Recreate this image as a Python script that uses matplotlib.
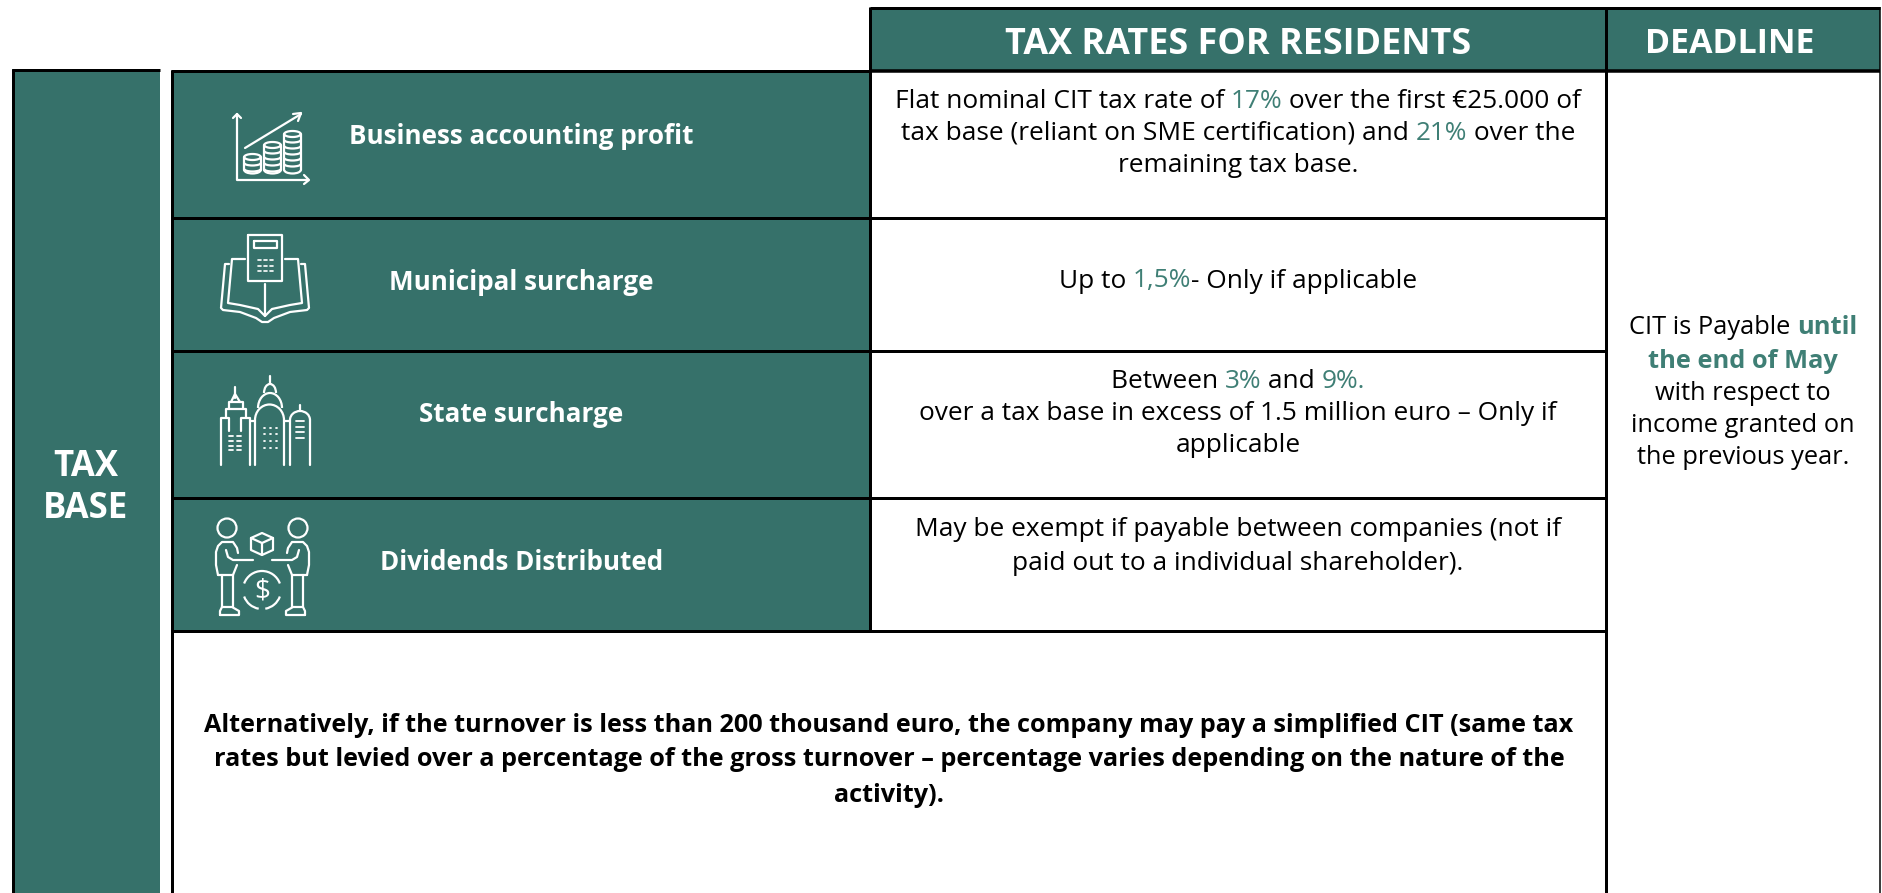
#!/usr/bin/env python3
# Tax table slide: CIT rates for residents, drawn in pixel coordinates.
import numpy as np
import matplotlib
matplotlib.use("Agg")
import matplotlib.pyplot as plt
from matplotlib.patches import Rectangle, Circle, Arc

plt.rcParams["font.family"] = ["Open Sans", "DejaVu Sans"]

TEAL = "#36716A"
ACCENT = "#3F7F75"
W, H = 1883, 893

headers = ["TAX RATES FOR RESIDENTS", "DEADLINE"]
side_label = ["TAX", "BASE"]
row_labels = ["Business accounting profit", "Municipal surcharge",
              "State surcharge", "Dividends Distributed"]

# second item: 0 plain, 1 highlighted, 2 highlighted bold
rate_1 = [[("Flat nominal CIT tax rate of ", 0), ("17%", 1), (" over the first €25.000 of", 0)],
          [("tax base (reliant on SME certification) and ", 0), ("21%", 1), (" over the", 0)],
          [("remaining tax base.", 0)]]
rate_2 = [[("Up to ", 0), ("1,5%", 1), ("- Only if applicable", 0)]]
rate_3 = [[("Between ", 0), ("3%", 1), (" and ", 0), ("9%.", 1)],
          [("over a tax base in excess of 1.5 million euro – Only if", 0)],
          [("applicable", 0)]]
rate_4 = [[("May be exempt if payable between companies (not if", 0)],
          [("paid out to a individual shareholder).", 0)]]
deadline = [[("CIT is Payable ", 0), ("until", 2)],
            [("the end of May", 2)],
            [("with respect to", 0)],
            [("income granted on", 0)],
            [("the previous year.", 0)]]
note = ["Alternatively, if the turnover is less than 200 thousand euro, the company may pay a simplified CIT (same tax",
        "rates but levied over a percentage of the gross turnover – percentage varies depending on the nature of the",
        "activity)."]

fig = plt.figure(figsize=(W / 100, H / 100), dpi=100)
ax = fig.add_axes([0, 0, 1, 1])
ax.set_xlim(0, W)
ax.set_ylim(H, 0)
ax.axis("off")

def box(x0, y0, x1, y1, fc):
    ax.add_patch(Rectangle((x0, y0), x1 - x0, y1 - y0, fc=fc, ec="none", zorder=1))

def line(xs, ys, lw=3.0, c="black", z=3):
    ax.plot(xs, ys, color=c, lw=lw * 0.72, solid_capstyle="butt", zorder=z)

# panels
box(12, 69, 160, H, TEAL)
box(171, 71, 870, 631, TEAL)
box(870, 8, 1880, 71, TEAL)

# borders
line([13.5, 13.5], [H, 69])
line([12, 160], [69.5, 69.5])
line([172.5, 172.5], [70, H])
line([171, 870], [71, 71])
for yy in [218, 351, 498, 631]:
    line([171, 1607], [yy, yy])
line([870, 870], [7, 631])
line([870, 1880], [7.5, 7.5])
line([870, 1880], [71, 71], lw=3.5)
line([1606.5, 1606.5], [7, H])
line([1880.5, 1880.5], [7, H], lw=1.5)

def rich(parts, cx, cy, size, weight="normal"):
    # one centred line made of differently coloured runs
    r = fig.canvas.get_renderer()
    runs = []
    total = 0
    for txt, kind in parts:
        c = ACCENT if kind else "black"
        w = "bold" if (kind == 2 or weight == "bold") else "normal"
        t = ax.text(0, cy, txt.replace(" ", "\u00a0"), fontsize=size, color=c, fontweight=w,
                    ha="left", va="center_baseline", zorder=5)
        wd = t.get_window_extent(r).width
        runs.append((t, wd))
        total += wd
    x = cx - total / 2
    for t, wd in runs:
        t.set_x(x)
        x += wd

BODY = 18.9
for parts, yy in zip(rate_1, [98, 130, 163]):
    rich(parts, 1238, yy, BODY)
rich(rate_2[0], 1238, 278, BODY)
for parts, yy in zip(rate_3, [379, 411, 443]):
    rich(parts, 1238, yy, BODY)
for parts, yy in zip(rate_4, [526, 560]):
    rich(parts, 1238, yy, BODY)
for parts, yy in zip(deadline, [325, 358, 390, 423, 455]):
    rich(parts, 1743, yy, 18.3)
for s, yy in zip(note, [723, 757, 792]):
    ax.text(889, yy, s, fontsize=18.2, fontweight="bold", color="black", ha="center",
            va="center_baseline", zorder=5)

ax.text(1238, 40, headers[0], fontsize=25.8, fontweight="bold", color="white", ha="center",
        va="center_baseline", zorder=5)
ax.text(1730, 40, headers[1], fontsize=24.4, fontweight="bold", color="white", ha="center",
        va="center_baseline", zorder=5)
for s, yy in zip(side_label, [463, 505]):
    ax.text(86, yy, s, fontsize=25, fontweight="bold", color="white", ha="center",
            va="center_baseline", zorder=5)
for s, cx, yy in zip(row_labels, [521, 521, 521, 522], [133, 280, 412, 560]):
    ax.text(cx, yy, s, fontsize=18.7, fontweight="bold", color="white", ha="center",
            va="center_baseline", zorder=5)

# ---- icons ----
def ic(xs, ys, lw=1.6):
    ax.plot(xs, ys, color="white", lw=lw, solid_capstyle="round", solid_joinstyle="round", zorder=4)

def arc(cx, cy, w, h, t1, t2, lw=1.6):
    ax.add_patch(Arc((cx, cy), w, h, theta1=t1, theta2=t2, ec="white", lw=lw, zorder=4))

def circ(cx, cy, r, lw=1.6):
    ax.add_patch(Circle((cx, cy), r, fc="none", ec="white", lw=lw, zorder=4))

def rect(x0, y0, x1, y1, lw=1.6):
    ic([x0, x1, x1, x0, x0], [y0, y0, y1, y1, y0], lw)

# chart with coins
ic([237, 237, 308], [114, 180, 180])
ic([233, 237, 241], [118, 114, 118])
ic([304, 309, 304], [175, 180, 184])
ic([245, 301], [148, 114])
ic([293, 301, 298], [114, 113, 121])
for cx, top in [(252.5, 154), (272.5, 142), (292.5, 131)]:
    arc(cx, top + 3, 16.5, 6, 0, 360)
    ic([cx - 8.25, cx - 8.25], [top + 3, 170])
    ic([cx + 8.25, cx + 8.25], [top + 3, 170])
    arc(cx, 170, 16.5, 7, 0, 180)
    for yy in np.arange(top + 9, 170, 6):
        arc(cx, yy, 16.5, 5, 0, 180)

# calculator on open book
rect(248, 235, 282, 281)
rect(254, 241, 277, 248)
for yy in [260, 266, 271]:
    for xx in [258, 264, 270]:
        ic([xx, xx + 3], [yy, yy], 1.2)
ic([265, 265], [284, 315])
ic([245, 232, 228, 240, 258, 265], [259, 259, 303, 305, 309, 316])
ic([285, 298, 302, 290, 272, 265], [259, 259, 303, 305, 309, 316])
ic([229, 225, 221, 223, 240, 256, 262, 268, 274, 290, 307, 309, 305, 301],
   [264, 264, 308, 310, 312, 318, 322, 322, 318, 312, 310, 308, 264, 264])

# city
ic([221, 221, 229, 229], [465, 418, 418, 431])
ic([250, 250, 241, 241], [465, 418, 418, 431])
ic([226, 226, 246, 246], [418, 409, 409, 418])
ic([229, 229, 243, 243], [409, 402, 402, 409])
ic([231, 235, 240], [402, 394, 402])
ic([235, 235], [387, 398])
for yy in [436, 441, 446, 450]:
    ic([229, 233], [yy, yy], 1.3)
    ic([237, 241], [yy, yy], 1.3)
ic([255, 255], [465, 420])
ic([284, 284], [465, 420])
arc(269.5, 420, 29, 31, 180, 360)
arc(270, 408, 24, 30, 180, 360)
arc(270, 393, 12, 18, 180, 360)
ic([270, 270], [376, 384])
for yy in [428, 434, 441, 448]:
    for xx in [264, 270, 276]:
        ic([xx, xx + 0.8], [yy, yy], 1.3)
ic([250, 255], [421, 421])
ic([284, 290], [421, 421])
ic([290, 290], [465, 420])
ic([310, 310], [465, 420])
arc(300, 420, 20, 18, 180, 360)
ic([300, 300], [405, 411])
for yy in [421, 427, 432, 438]:
    ic([296, 304], [yy, yy], 1.3)

# two people, box and coin
def person(m):
    # m flips the figure about the icon's centre
    fx = lambda xs: [525 - x if m else x for x in xs]
    circ(fx([227])[0], 528, 9.5)
    ic(fx([218, 216, 216, 218, 222, 228, 233, 237, 238]),
       [575, 565, 552, 546, 542, 542, 542, 548, 553])
    ic(fx([233, 237]), [575, 565])
    ic(fx([226, 228, 233, 253]), [550, 557, 560, 560])
    ic(fx([222, 222]), [575, 607])
    ic(fx([233, 233]), [575, 607])
    ic(fx([218, 233]), [575, 575])
    ic(fx([220, 239, 239, 232, 222, 220, 220]), [615, 615, 611, 607, 607, 611, 615])
person(False)
person(True)
ic([251, 262, 273, 273, 262, 251, 251], [538, 533, 538, 550, 555, 550, 538])
ic([251, 262, 273], [538, 543, 538])
ic([262, 262], [543, 555])
arc(262, 590, 38, 38, 20, 80)
arc(262, 590, 38, 38, 100, 160)
arc(262, 590, 38, 38, 200, 340)
ax.text(262, 591, "$", fontsize=20, color="white", ha="center", va="center", zorder=5)

fig.savefig("out.png", dpi=100)
